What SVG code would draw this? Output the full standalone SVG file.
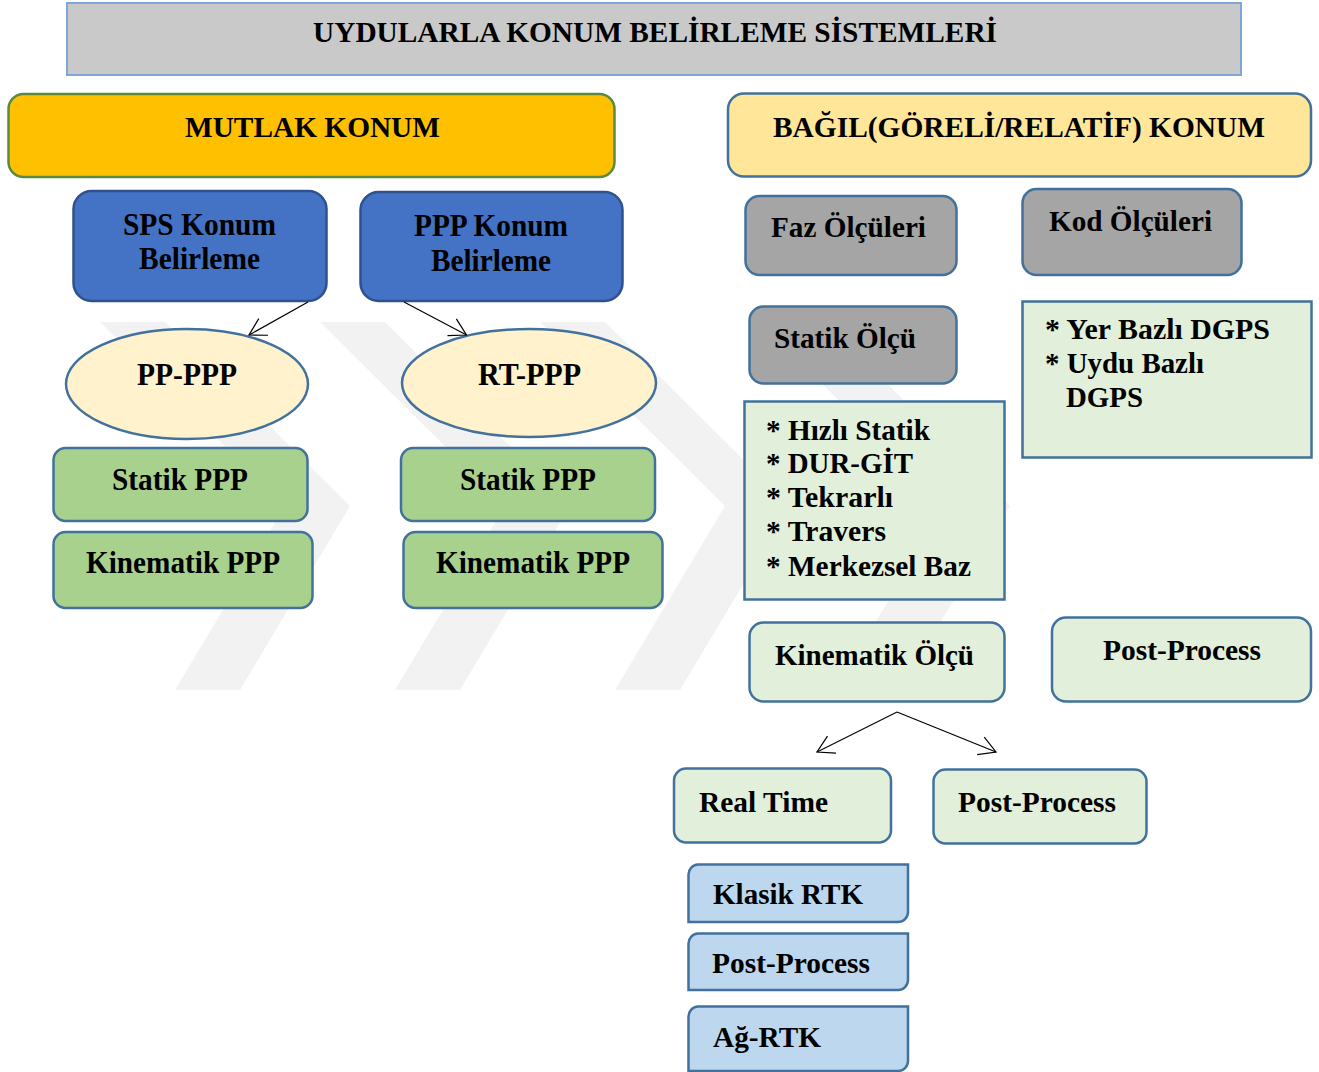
<svg xmlns="http://www.w3.org/2000/svg" width="1319" height="1072" viewBox="0 0 1319 1072">
  <defs>
    <style>
      .t { font-family: "Liberation Serif", "Times New Roman", serif; font-weight: bold; fill: #000; }
      .bx { stroke: #41719c; stroke-width: 2.5; }
      .lg { fill: #e2efda; }
      .gr { fill: #a9d18e; }
      .gy { fill: #a5a5a5; }
      .bl { fill: #bdd7ee; }
      .el { fill: #fff2cc; }
      .wm { fill: #f2f2f2; }
      .conn { stroke: #000; stroke-width: 1.2; fill: none; }
    </style>
    <marker id="arr" markerUnits="userSpaceOnUse" markerWidth="24" markerHeight="24" refX="0" refY="0" viewBox="-20 -12 22 24" orient="auto">
      <path d="M-16.5,-9.5 L0,0 L-16.5,9.5" fill="none" stroke="#000" stroke-width="1.2"/>
    </marker>
  </defs>
  <rect width="1319" height="1072" fill="#ffffff"/>

  <g id="watermark">
    <polygon class="wm" points="100,322 165,322 350,506 240,690 175,690 285,506"/>
    <polygon class="wm" points="320,322 385,322 570,506 460,690 395,690 505,506"/>
    <polygon class="wm" points="540,322 605,322 790,506 680,690 615,690 725,506"/>
    <polygon class="wm" points="760,322 825,322 1010,506 900,690 835,690 945,506"/>
  </g>

  <g id="title">
    <rect x="67" y="3" width="1174" height="72" fill="#c9c9c9" stroke="#7ea6d8" stroke-width="2"/>
    <text class="t" x="313" y="42" font-size="30" textLength="684" lengthAdjust="spacingAndGlyphs">UYDULARLA KONUM BELİRLEME SİSTEMLERİ</text>
  </g>

  <g id="mutlak">
    <rect x="8.5" y="94" width="606" height="83" rx="15" fill="#ffc000" stroke="#5b8a3c" stroke-width="2.5"/>
    <text class="t" x="185" y="137" font-size="30" textLength="255" lengthAdjust="spacingAndGlyphs">MUTLAK KONUM</text>
  </g>

  <g id="bagil">
    <rect x="728" y="93.5" width="583" height="83" rx="16" class="bx" fill="#ffe699"/>
    <text class="t" x="773" y="137" font-size="29" textLength="492" lengthAdjust="spacingAndGlyphs">BAĞIL(GÖRELİ/RELATİF) KONUM</text>
  </g>

  <g id="sps">
    <rect x="73.5" y="191" width="253" height="110" rx="18" fill="#4472c4" stroke="#2f528f" stroke-width="2.5"/>
    <text class="t" x="123" y="235" font-size="31" textLength="153" lengthAdjust="spacingAndGlyphs">SPS Konum</text>
    <text class="t" x="139" y="269" font-size="31" textLength="121" lengthAdjust="spacingAndGlyphs">Belirleme</text>
  </g>

  <g id="ppp">
    <rect x="360.5" y="192" width="262" height="109" rx="18" fill="#4472c4" stroke="#2f528f" stroke-width="2.5"/>
    <text class="t" x="414" y="236" font-size="31" textLength="154" lengthAdjust="spacingAndGlyphs">PPP Konum</text>
    <text class="t" x="431" y="271" font-size="31" textLength="120" lengthAdjust="spacingAndGlyphs">Belirleme</text>
  </g>

  <g id="pp-ppp">
    <ellipse cx="187" cy="384" rx="121" ry="55" class="bx el"/>
    <text class="t" x="137" y="385" font-size="31" textLength="100" lengthAdjust="spacingAndGlyphs">PP-PPP</text>
  </g>

  <g id="rt-ppp">
    <ellipse cx="529" cy="383" rx="127" ry="54" class="bx el"/>
    <text class="t" x="478" y="385" font-size="31" textLength="103" lengthAdjust="spacingAndGlyphs">RT-PPP</text>
  </g>

  <g id="statik-ppp-l">
    <rect x="53.5" y="448" width="254" height="73" rx="12" class="bx gr"/>
    <text class="t" x="112" y="490" font-size="31" textLength="136" lengthAdjust="spacingAndGlyphs">Statik PPP</text>
  </g>
  <g id="kinematik-ppp-l">
    <rect x="53.5" y="532" width="259" height="76" rx="12" class="bx gr"/>
    <text class="t" x="86" y="573" font-size="31" textLength="194" lengthAdjust="spacingAndGlyphs">Kinematik PPP</text>
  </g>
  <g id="statik-ppp-r">
    <rect x="401" y="448" width="254" height="73" rx="12" class="bx gr"/>
    <text class="t" x="460" y="490" font-size="31" textLength="136" lengthAdjust="spacingAndGlyphs">Statik PPP</text>
  </g>
  <g id="kinematik-ppp-r">
    <rect x="403.5" y="532" width="259" height="76" rx="12" class="bx gr"/>
    <text class="t" x="436" y="573" font-size="31" textLength="194" lengthAdjust="spacingAndGlyphs">Kinematik PPP</text>
  </g>

  <g id="faz">
    <rect x="745.5" y="196" width="211" height="79" rx="14" class="bx gy"/>
    <text class="t" x="771" y="237" font-size="30" textLength="155" lengthAdjust="spacingAndGlyphs">Faz Ölçüleri</text>
  </g>
  <g id="kod">
    <rect x="1022.5" y="189" width="219" height="86" rx="14" class="bx gy"/>
    <text class="t" x="1049" y="231" font-size="30" textLength="163" lengthAdjust="spacingAndGlyphs">Kod Ölçüleri</text>
  </g>
  <g id="statik-olcu">
    <rect x="749.5" y="306.5" width="207" height="77" rx="14" class="bx gy"/>
    <text class="t" x="774" y="348" font-size="30" textLength="142" lengthAdjust="spacingAndGlyphs">Statik Ölçü</text>
  </g>

  <g id="dgps">
    <rect x="1022.5" y="301.5" width="289" height="156" class="bx lg"/>
    <text class="t" x="1045" y="339" font-size="30" textLength="225" lengthAdjust="spacingAndGlyphs">* Yer Bazlı DGPS</text>
    <text class="t" x="1045" y="373" font-size="30" textLength="159" lengthAdjust="spacingAndGlyphs">* Uydu Bazlı</text>
    <text class="t" x="1066" y="407" font-size="30" textLength="77" lengthAdjust="spacingAndGlyphs">DGPS</text>
  </g>

  <g id="statik-list">
    <rect x="744.5" y="401.5" width="260" height="198" class="bx lg"/>
    <text class="t" x="766" y="440" font-size="30" textLength="164" lengthAdjust="spacingAndGlyphs">* Hızlı Statik</text>
    <text class="t" x="766" y="473" font-size="30" textLength="147" lengthAdjust="spacingAndGlyphs">* DUR-GİT</text>
    <text class="t" x="766" y="507" font-size="30" textLength="127" lengthAdjust="spacingAndGlyphs">* Tekrarlı</text>
    <text class="t" x="766" y="541" font-size="30" textLength="120" lengthAdjust="spacingAndGlyphs">* Travers</text>
    <text class="t" x="766" y="576" font-size="30" textLength="205" lengthAdjust="spacingAndGlyphs">* Merkezsel Baz</text>
  </g>

  <g id="kinematik-olcu">
    <rect x="749.5" y="622.5" width="255" height="79" rx="14" class="bx lg"/>
    <text class="t" x="775" y="665" font-size="30" textLength="199" lengthAdjust="spacingAndGlyphs">Kinematik Ölçü</text>
  </g>
  <g id="post-process-1">
    <rect x="1052" y="617.5" width="259" height="84" rx="14" class="bx lg"/>
    <text class="t" x="1103" y="660" font-size="30" textLength="158" lengthAdjust="spacingAndGlyphs">Post-Process</text>
  </g>

  <g id="real-time">
    <rect x="674" y="768.5" width="217" height="74" rx="12" class="bx lg"/>
    <text class="t" x="699" y="812" font-size="29" textLength="129" lengthAdjust="spacingAndGlyphs">Real Time</text>
  </g>
  <g id="post-process-2">
    <rect x="933.5" y="769.5" width="213" height="74" rx="12" class="bx lg"/>
    <text class="t" x="958" y="812" font-size="29" textLength="158" lengthAdjust="spacingAndGlyphs">Post-Process</text>
  </g>

  <g id="klasik-rtk">
    <path class="bx bl" d="M698,864.5 H908 V912 A10,10 0 0 1 898,922 H688.5 V874.5 A10,10 0 0 1 698,864.5 Z"/>
    <text class="t" x="713" y="904" font-size="29" textLength="150" lengthAdjust="spacingAndGlyphs">Klasik RTK</text>
  </g>
  <g id="post-process-3">
    <path class="bx bl" d="M698,933.5 H908 V980 A10,10 0 0 1 898,990 H688.5 V943.5 A10,10 0 0 1 698,933.5 Z"/>
    <text class="t" x="712" y="973" font-size="29" textLength="158" lengthAdjust="spacingAndGlyphs">Post-Process</text>
  </g>
  <g id="ag-rtk">
    <path class="bx bl" d="M698,1006.5 H908 V1061 A10,10 0 0 1 898,1071 H688.5 V1016.5 A10,10 0 0 1 698,1006.5 Z"/>
    <text class="t" x="713" y="1047" font-size="29" textLength="108" lengthAdjust="spacingAndGlyphs">Ağ-RTK</text>
  </g>

  <g id="connectors">
    <line class="conn" x1="308" y1="302" x2="249" y2="335" marker-end="url(#arr)"/>
    <line class="conn" x1="404" y1="302" x2="466.5" y2="335" marker-end="url(#arr)"/>
    <line class="conn" x1="897" y1="712" x2="817" y2="752" marker-end="url(#arr)"/>
    <line class="conn" x1="897" y1="712" x2="996" y2="752" marker-end="url(#arr)"/>
  </g>
</svg>
